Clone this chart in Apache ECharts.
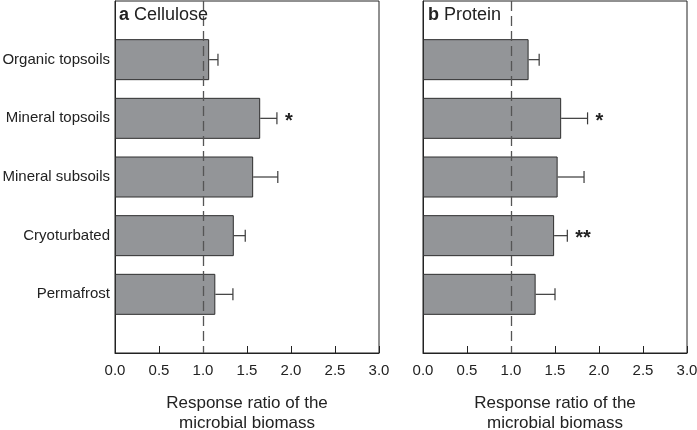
<!DOCTYPE html>
<html>
<head>
<meta charset="utf-8">
<script src="https://cdn.jsdelivr.net/npm/echarts@6/dist/echarts.min.js"></script>
<style>
  html, body { margin: 0; padding: 0; background: #fff; }
  #main { width: 697px; height: 430px; }
</style>
</head>
<body>
<div id="main"></div>
<script>
// soil categories (top to bottom)
var soils = ['Organic topsoils', 'Mineral topsoils', 'Mineral subsoils', 'Cryoturbated', 'Permafrost'];

// a Cellulose
var meanA = [1.07, 1.65, 1.57, 1.35, 1.14];
var errA  = [0.10, 0.19, 0.28, 0.13, 0.20];
var starA = ['', '*', '', '', ''];

// b Protein
var meanB = [1.20, 1.57, 1.53, 1.49, 1.28];
var errB  = [0.12, 0.30, 0.30, 0.15, 0.22];
var starB = ['', '*', '', '**', ''];

var refLine = 1;

// empty slots above and below the bars
var yCats = [''].concat(soils).concat([' ']);

var myChart = echarts.init(document.getElementById('main'));

var font = 'Liberation Sans, Arial, sans-serif';

function errRender(stars) {
    return function (params, api) {
        var p0 = api.coord([api.value(0), api.value(2)]);
        var p1 = api.coord([api.value(1), api.value(2)]);
        var st = { stroke: '#3a3a3a', lineWidth: 1.2 };
        var kids = [
            { type: 'line', shape: { x1: p0[0], y1: p0[1], x2: p1[0], y2: p1[1] }, style: st },
            { type: 'line', shape: { x1: p1[0], y1: p1[1] - 6, x2: p1[0], y2: p1[1] + 6 }, style: st }
        ];
        var s = stars[params.dataIndex];
        if (s) {
            kids.push({
                type: 'text',
                style: {
                    text: s, x: p1[0] + 8, y: p1[1] + 3,
                    fill: '#222', font: 'bold 20px ' + font,
                    verticalAlign: 'middle', align: 'left'
                }
            });
        }
        return { type: 'group', children: kids };
    };
}

function xAxisCfg(idx) {
    return {
        gridIndex: idx,
        type: 'value',
        min: 0, max: 3, interval: 0.5,
        name: 'Response ratio of the\nmicrobial biomass',
        nameLocation: 'middle',
        nameGap: 40,
        nameTextStyle: { fontSize: 17, color: '#222', fontFamily: font, lineHeight: 20 },
        axisLine: { show: true, lineStyle: { color: '#222', width: 1 } },
        axisTick: { show: true, inside: true, length: 7, lineStyle: { color: '#222' } },
        axisLabel: {
            margin: 10, fontSize: 15, color: '#222', fontFamily: font,
            formatter: function (v) { return v.toFixed(1); }
        },
        splitLine: { show: false }
    };
}

function yAxisCfg(idx, showLabels) {
    return {
        gridIndex: idx,
        type: 'category',
        data: yCats,
        inverse: true,
        boundaryGap: false,
        axisLine: { show: true, lineStyle: { color: '#222', width: 1 } },
        axisTick: { show: false },
        axisLabel: { show: showLabels, margin: 5, fontSize: 15, color: '#222', fontFamily: font },
        splitLine: { show: false }
    };
}

function barSeries(idx, means) {
    return {
        type: 'bar',
        xAxisIndex: idx, yAxisIndex: idx,
        data: soils.map(function (s, i) { return [means[i], s]; }),
        encode: { x: 0, y: 1 },
        barWidth: 41,
        itemStyle: { color: '#939598', borderColor: '#2e2e2e', borderWidth: 1 },
        markLine: {
            silent: true,
            symbol: 'none',
            label: { show: false },
            lineStyle: { color: '#555', type: [10, 5], width: 1.3 },
            data: [{ xAxis: refLine }]
        },
        z: 2
    };
}

function errSeries(idx, means, errs, stars) {
    return {
        type: 'custom',
        xAxisIndex: idx, yAxisIndex: idx,
        data: soils.map(function (s, i) { return [means[i], means[i] + errs[i], s]; }),
        encode: { x: [0, 1], y: 2 },
        renderItem: errRender(stars),
        z: 3
    };
}

function panelTitle(left, letter, word) {
    return {
        left: left, top: 1,
        text: '{b|' + letter + '} {n|' + word + '}',
        textStyle: {
            fontWeight: 'normal',
            rich: {
                b: { fontSize: 18, fontWeight: 'bold', color: '#222', fontFamily: font },
                n: { fontSize: 18, fontWeight: 'normal', color: '#222', fontFamily: font }
            }
        }
    };
}

var option = {
    animation: false,
    title: [panelTitle(114, 'a', 'Cellulose'), panelTitle(423, 'b', 'Protein')],
    grid: [
        { left: 115, top: 1, width: 264, height: 352, outerBoundsMode: 'none', containLabel: false,
          show: true, borderColor: '#222', borderWidth: 1, backgroundColor: 'transparent' },
        { left: 423, top: 1, width: 264, height: 352, outerBoundsMode: 'none', containLabel: false,
          show: true, borderColor: '#222', borderWidth: 1, backgroundColor: 'transparent' }
    ],
    xAxis: [xAxisCfg(0), xAxisCfg(1)],
    yAxis: [yAxisCfg(0, true), yAxisCfg(1, false)],
    series: [
        barSeries(0, meanA),
        errSeries(0, meanA, errA, starA),
        barSeries(1, meanB),
        errSeries(1, meanB, errB, starB)
    ]
};

myChart.setOption(option);
</script>
</body>
</html>
